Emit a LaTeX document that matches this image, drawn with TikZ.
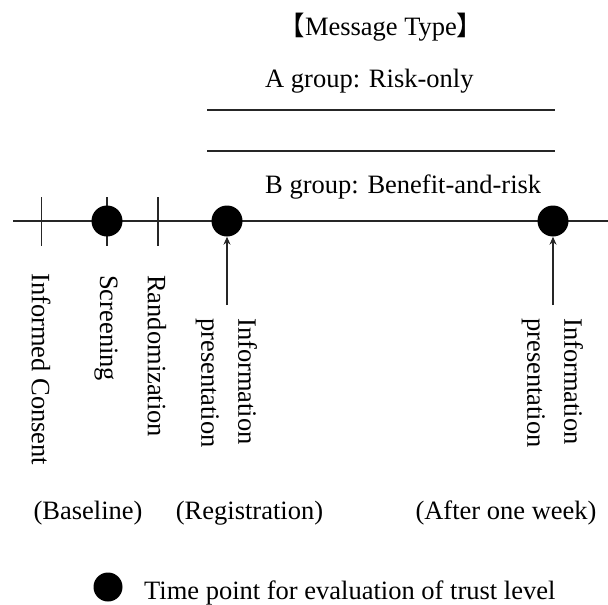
\documentclass[tikz,border=0pt]{standalone}
\usepackage{fontspec}
\setmainfont{Liberation Serif}
\newfontfamily\cjk{Noto Sans CJK SC}
\usetikzlibrary{arrows.meta}
\begin{document}
\begin{tikzpicture}[x=1pt,y=-1pt,
  txt/.style={font=\fontsize{26.5}{37}\selectfont, inner sep=0pt},
  vlabel/.style={txt, rotate=-90, anchor=west, align=left},
  dot/.style={circle, fill=black, minimum size=31pt, inner sep=0pt},
  ln/.style={line width=1.1pt, black!85},
  arr/.style={ln, -{Stealth[length=8pt,width=7pt]}}]
\useasboundingbox (0,0) rectangle (608,605);
% header
\node[txt, anchor=base] (mt) at (381,35) {{\cjk 【}Message Type{\cjk 】}};
\node[txt, anchor=base west] (ga) at (265,87) {A group: Risk-only};
\coordinate (l1a) at (207,110); \coordinate (l1b) at (555,110);
\coordinate (l2a) at (207,151); \coordinate (l2b) at (555,151);
\draw[ln] (l1a) -- (l1b);
\draw[ln] (l2a) -- (l2b);
\node[txt, anchor=base west] (gb) at (265,193) {B group: Benefit-and-risk};
% timeline
\coordinate (tl) at (13,221); \coordinate (tr) at (608,221);
\draw[ln] (tl) -- (tr);
\coordinate (t1a) at (41.5,197); \coordinate (t1b) at (41.5,246);
\coordinate (t2a) at (107,197); \coordinate (t2b) at (107,246);
\coordinate (t3a) at (158,197); \coordinate (t3b) at (158,246);
\draw[ln] (t1a) -- (t1b);
\draw[ln] (t2a) -- (t2b);
\draw[ln] (t3a) -- (t3b);
\node[dot] (d1) at (107,221) {};
\node[dot] (d2) at (227,221) {};
\node[dot] (d3) at (553,221) {};
\coordinate (a2) at (227,305);
\coordinate (a3) at (553,305);
\draw[arr] (a2) -- (d2.south);
\draw[arr] (a3) -- (d3.south);
% vertical labels
\node[vlabel] (ic) at (41,273) {Informed Consent};
\node[vlabel] (sc) at (106,275) {Screening};
\node[vlabel] (rd) at (157,275) {Randomization};
\node[vlabel] (ip1) at (226.5,318) {Information\\presentation};
\node[vlabel] (ip2) at (552.5,318) {Information\\presentation};
% bottom labels
\node[txt, anchor=base] (bl) at (88,519) {(Baseline)};
\node[txt, anchor=base] (rg) at (249.5,519) {(Registration)};
\node[txt, anchor=base] (aw) at (506,519) {(After one week)};
% legend
\node[dot, minimum size=29pt] (ld) at (108,587) {};
\node[txt, anchor=base west] (lt) at (144,599) {Time point for evaluation of trust level};
\end{tikzpicture}
\end{document}
